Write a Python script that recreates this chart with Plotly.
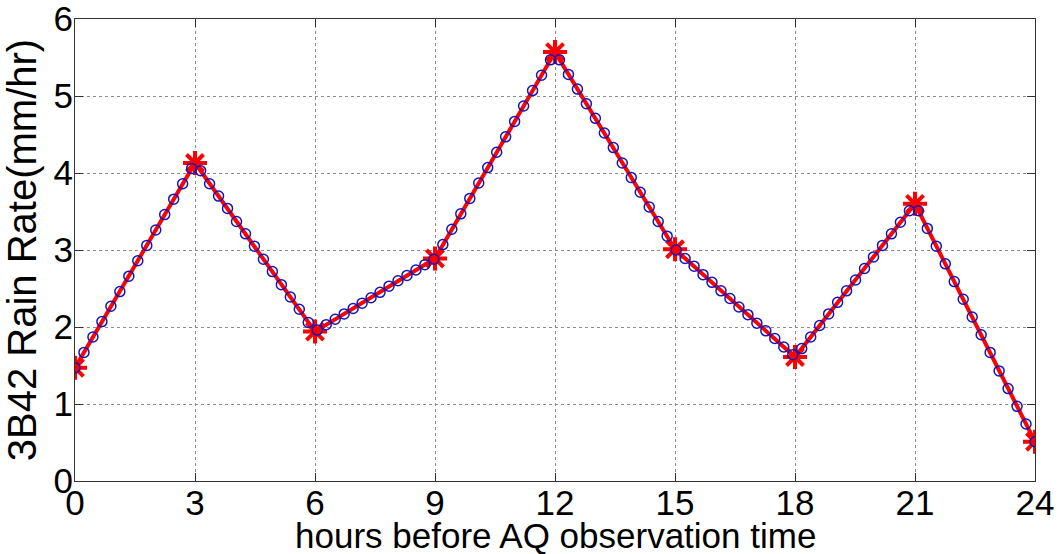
import numpy as np
import plotly.graph_objects as go

# 3-hourly values (red asterisks)
hours = [0, 3, 6, 9, 12, 15, 18, 21, 24]
rain_rate = [1.47, 4.13, 1.94, 2.89, 5.57, 3.01, 1.61, 3.60, 0.51]

fine_hours = np.linspace(0, 24, 108)
fine_rate = [
    1.47, 1.67, 1.87, 2.07, 2.27, 2.46, 2.66, 2.86, 3.06, 3.26,
    3.46, 3.66, 3.86, 4.06, 4.03, 3.86, 3.70, 3.54, 3.37, 3.21,
    3.05, 2.88, 2.72, 2.55, 2.39, 2.23, 2.06, 1.96, 2.03, 2.10,
    2.17, 2.24, 2.31, 2.38, 2.45, 2.53, 2.60, 2.67, 2.74, 2.81,
    2.88, 3.07, 3.27, 3.47, 3.67, 3.87, 4.07, 4.27, 4.47, 4.67,
    4.87, 5.07, 5.27, 5.47, 5.47, 5.28, 5.09, 4.90, 4.71, 4.52,
    4.33, 4.13, 3.94, 3.75, 3.56, 3.37, 3.18, 3.00, 2.89, 2.79,
    2.68, 2.58, 2.47, 2.37, 2.26, 2.16, 2.05, 1.95, 1.85, 1.74,
    1.64, 1.72, 1.87, 2.02, 2.17, 2.32, 2.47, 2.61, 2.76, 2.91,
    3.06, 3.21, 3.36, 3.51, 3.51, 3.28, 3.05, 2.82, 2.59, 2.36,
    2.13, 1.90, 1.67, 1.43, 1.20, 0.97, 0.74, 0.51,
]

x_ticks = [0, 3, 6, 9, 12, 15, 18, 21, 24]
y_ticks = [0, 1, 2, 3, 4, 5, 6]

x_title = "hours before AQ observation time"
y_title = "3B42 Rain Rate(mm/hr)"

FONT = "Liberation Sans, Arial, sans-serif"

fig = go.Figure()
fig.add_trace(go.Scatter(
    x=hours, y=rain_rate, mode="lines+markers",
    line=dict(color="#ff0000", width=4),
    marker=dict(symbol="asterisk-open", size=20, color="#ff0000",
                line=dict(width=4, color="#ff0000")),
    showlegend=False, hoverinfo="skip",
))
fig.add_trace(go.Scatter(
    x=fine_hours, y=fine_rate, mode="markers",
    marker=dict(symbol="circle-open", size=10, color="#1414b8",
                line=dict(width=1.5, color="#1414b8")),
    showlegend=False, hoverinfo="skip",
))

axis_common = dict(
    showline=True, linecolor="#333333", linewidth=1, mirror="ticks",
    ticks="inside", ticklen=8, tickcolor="#333333", tickwidth=1,
    showgrid=True, gridcolor="#8c8c8c", griddash="dot", gridwidth=1,
    zeroline=False,
    tickfont=dict(family=FONT, size=35, color="black"),
    ticklabeloverflow="allow",
    automargin=False,
)

fig.update_xaxes(
    range=[0, 24], tickvals=x_ticks, ticktext=[str(v) for v in x_ticks],
    ticklabelstandoff=-9,
    **axis_common,
)
fig.update_yaxes(
    range=[0, 6], tickvals=y_ticks, ticktext=[str(v) for v in y_ticks],
    ticklabelstandoff=-6,
    title=dict(text=y_title,
               font=dict(family=FONT, size=40, color="black"), standoff=6),
    **axis_common,
)

fig.add_annotation(
    text=x_title, xref="paper", yref="paper", x=0.5, y=-0.117,
    xanchor="center", yanchor="middle", showarrow=False,
    font=dict(family=FONT, size=35, color="black"),
)

fig.update_layout(
    width=1058, height=554,
    margin=dict(l=75, r=23, t=19, b=73, pad=0),
    paper_bgcolor="white", plot_bgcolor="white",
)

fig.write_html(
    "out.html",
    config={"displayModeBar": False},
    post_script="document.body.style.margin='0';document.body.style.overflow='hidden';",
)
